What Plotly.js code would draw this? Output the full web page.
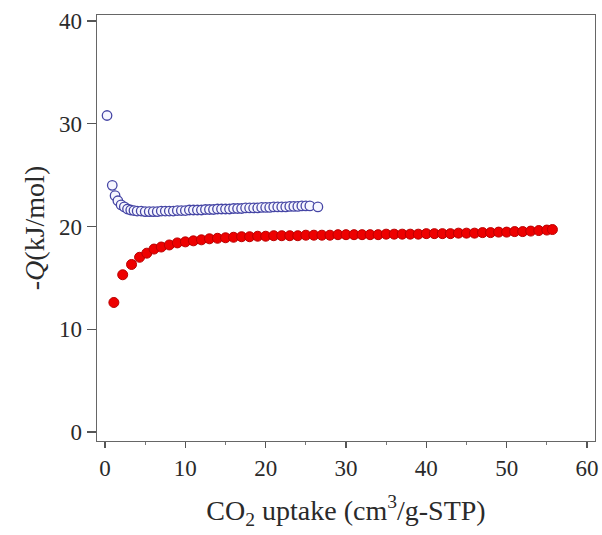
<!DOCTYPE html>
<html>
<head>
<meta charset="utf-8">
<script src="https://cdn.plot.ly/plotly-3.0.1.min.js"></script>
<style>html,body{margin:0;padding:0;background:#fff;}#chart{width:602px;height:535px;}</style>
</head>
<body>
<div id="chart"></div>
<script>
// Open-circle series (blue)
const blueX = [0.25, 0.9, 1.25, 1.6, 2.0, 2.4, 2.8, 3.2, 3.6,
  4.0, 4.5, 5.0, 5.5, 6.0, 6.5, 7.0, 7.5, 8.0, 8.5, 9.0, 9.5, 10.0, 10.5, 11.0, 11.5,
  12.0, 12.5, 13.0, 13.5, 14.0, 14.5, 15.0, 15.5, 16.0, 16.5, 17.0, 17.5, 18.0, 18.5,
  19.0, 19.5, 20.0, 20.5, 21.0, 21.5, 22.0, 22.5, 23.0, 23.5, 24.0, 24.5, 25.0, 25.5, 26.5];
const blueY = [30.8, 24.0, 23.0, 22.5, 22.1, 21.9, 21.7, 21.6, 21.55,
  21.5, 21.5, 21.45, 21.45, 21.45, 21.45, 21.5, 21.5, 21.5, 21.5, 21.55, 21.55, 21.55, 21.6, 21.6, 21.6,
  21.6, 21.65, 21.65, 21.65, 21.7, 21.7, 21.7, 21.7, 21.75, 21.75, 21.75, 21.8, 21.8, 21.8,
  21.8, 21.85, 21.85, 21.85, 21.9, 21.9, 21.9, 21.9, 21.95, 21.95, 21.95, 22.0, 22.0, 22.0, 21.9];

// Filled series (red)
const redX = [1.1, 2.2, 3.3, 4.3, 5.2, 6.1, 7.0, 8.0, 9.0, 10, 11, 12, 13, 14, 15, 16, 17, 18, 19, 20,
  21, 22, 23, 24, 25, 26, 27, 28, 29, 30, 31, 32, 33, 34, 35, 36, 37, 38, 39, 40,
  41, 42, 43, 44, 45, 46, 47, 48, 49, 50, 51, 52, 53, 54, 55, 55.7];
const redY = [12.6, 15.3, 16.3, 17.0, 17.4, 17.8, 18.0, 18.2, 18.4, 18.5, 18.6, 18.7, 18.8, 18.85, 18.9, 18.95, 19.0, 19.0, 19.05, 19.05,
  19.1, 19.1, 19.1, 19.1, 19.15, 19.15, 19.15, 19.15, 19.2, 19.2, 19.2, 19.2, 19.2, 19.2, 19.25, 19.25, 19.25, 19.25, 19.25, 19.3,
  19.3, 19.3, 19.3, 19.35, 19.35, 19.35, 19.4, 19.4, 19.45, 19.45, 19.5, 19.5, 19.55, 19.6, 19.65, 19.7];

const xTicks = [0, 10, 20, 30, 40, 50, 60];
const yTicks = [0, 10, 20, 30, 40];

const traces = [
  {x: redX, y: redY, type: 'scatter', mode: 'markers',
   marker: {symbol: 'circle', size: 10, color: 'rgb(238,0,0)', line: {color: 'rgb(185,0,0)', width: 1}}},
  {x: blueX, y: blueY, type: 'scatter', mode: 'markers',
   marker: {symbol: 'circle', size: 9.5, color: 'rgb(246,246,255)', line: {color: 'rgb(70,70,165)', width: 1.3}}}
];

const fam = 'Liberation Serif, Times New Roman, serif';

const layout = {
  width: 602, height: 535,
  margin: {l: 97, r: 7, t: 15, b: 94},
  showlegend: false,
  paper_bgcolor: '#fff', plot_bgcolor: '#fff',
  font: {family: fam, color: '#222'},
  xaxis: {
    range: [-1, 61], tickvals: xTicks, ticktext: xTicks.map(String),
    automargin: 'bottom',
    showgrid: false, zeroline: false,
    showline: true, mirror: true, linecolor: '#666', linewidth: 1.3,
    ticks: 'outside', ticklen: 6, tickwidth: 1.3, tickcolor: '#555',
    minor: {dtick: 5, tick0: 0, ticks: 'outside', ticklen: 3, tickwidth: 1, tickcolor: '#777', showgrid: false},
    tickfont: {family: fam, size: 23, color: '#2a2a2a'},
    title: {text: 'CO<sub>2</sub> uptake (cm<sup>3</sup>/g-STP)', font: {family: fam, size: 28, color: '#2a2a2a'}, standoff: 20}
  },
  yaxis: {
    range: [-0.88, 40.58], tickvals: yTicks, ticktext: yTicks.map(String),
    automargin: 'left',
    showgrid: false, zeroline: false,
    showline: true, mirror: true, linecolor: '#666', linewidth: 1.3,
    ticks: 'outside', ticklen: 9, tickwidth: 1.3, tickcolor: '#555',
    tickfont: {family: fam, size: 23, color: '#2a2a2a'},
    title: {text: '-<i>Q</i>(kJ/mol)', font: {family: fam, size: 28, color: '#2a2a2a'}, standoff: 6}
  }
};

Plotly.newPlot('chart', traces, layout, {displayModeBar: false, staticPlot: true});
</script>
</body>
</html>
